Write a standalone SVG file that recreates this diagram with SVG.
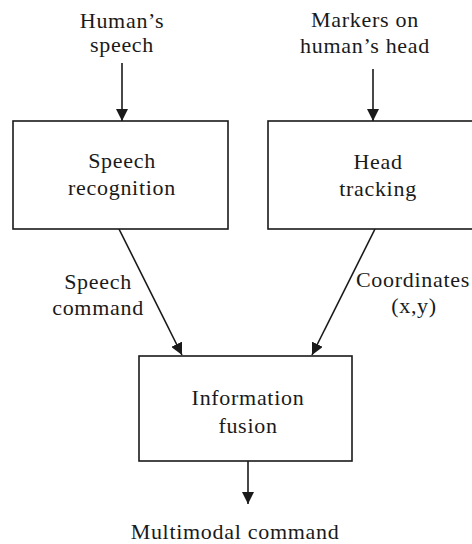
<svg xmlns="http://www.w3.org/2000/svg" width="472" height="544" viewBox="0 0 472 544">
<style>
text{font-family:"Liberation Serif","Times New Roman",serif;font-size:22px;letter-spacing:0.7px;fill:#1a1a1a;text-anchor:middle}
.box{fill:#fff;stroke:#1a1a1a;stroke-width:1.6}
.ln{stroke:#1a1a1a;stroke-width:1.6;fill:none;marker-end:url(#ah)}
</style>
<defs>
<marker id="ah" viewBox="0 0 12 12" refX="12" refY="6" markerWidth="12" markerHeight="12" markerUnits="userSpaceOnUse" orient="auto">
<path d="M0,0 L12,6 L0,12 z" fill="#1a1a1a"/>
</marker>
</defs>
<rect width="472" height="544" fill="#fff"/>
<g id="connectors">
<line class="ln" x1="122" y1="63" x2="122" y2="121"/>
<line class="ln" x1="373" y1="69" x2="373" y2="121"/>
<line class="ln" x1="119" y1="229" x2="182" y2="355"/>
<line class="ln" x1="375" y1="229" x2="312" y2="355"/>
<line class="ln" x1="248" y1="461" x2="248" y2="504"/>
</g>
<g id="in-speech"><text x="122" y="28">Human’s</text><text x="122" y="52">speech</text></g>
<g id="in-markers"><text x="365" y="27">Markers on</text><text x="365" y="53">human’s head</text></g>
<g id="speech-recognition"><rect class="box" x="13" y="121" width="215" height="108"/><text x="122" y="168">Speech</text><text x="122" y="195">recognition</text></g>
<g id="head-tracking"><rect class="box" x="268" y="121" width="218" height="108"/><text x="378" y="169">Head</text><text x="378" y="196">tracking</text></g>
<g id="lbl-speech-command"><text x="98" y="289">Speech</text><text x="98" y="315">command</text></g>
<g id="lbl-coordinates"><text x="413" y="287">Coordinates</text><text x="414" y="313">(x,y)</text></g>
<g id="information-fusion"><rect class="box" x="139" y="356" width="213" height="105"/><text x="248" y="405">Information</text><text x="248" y="433">fusion</text></g>
<g id="out-command"><text x="235" y="539">Multimodal command</text></g>
</svg>
